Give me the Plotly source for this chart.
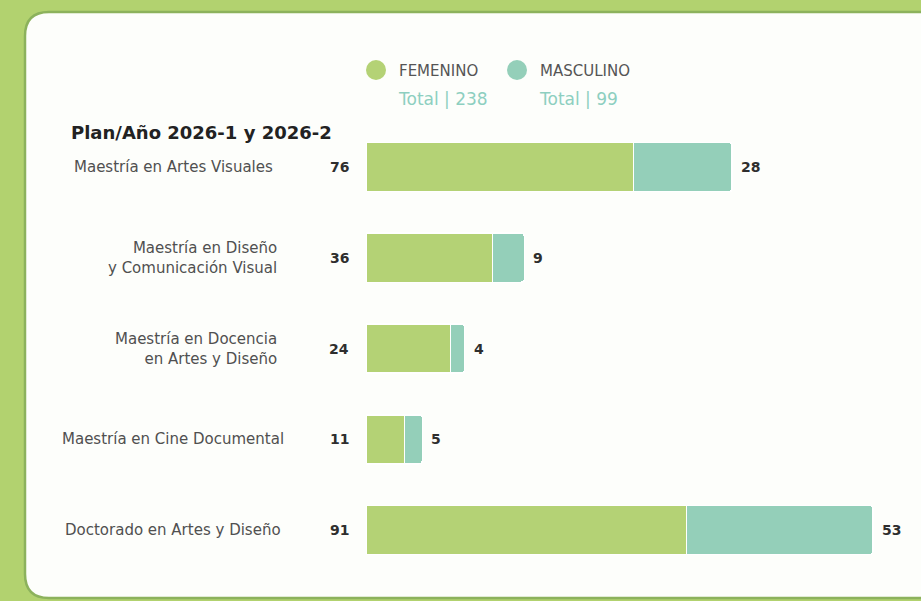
import plotly.graph_objects as go

categories = [
    "Maestría en Artes Visuales",
    "Maestría en Diseño<br>y Comunicación Visual",
    "Maestría en Docencia<br>en Artes y Diseño",
    "Maestría en Cine Documental",
    "Doctorado en Artes y Diseño",
]
femenino = [76, 36, 24, 11, 91]
masculino = [28, 9, 4, 5, 53]
total_fem = 238
total_masc = 99
title_text = "Plan/Año 2026-1 y 2026-2"

W, H = 921, 601
GREEN = "#b4d275"
TEAL = "#94cfb9"
OUTER = "#b2d26f"
SANS = "DejaVu Sans, Verdana, sans-serif"

def px(x):
    return x / W

def py(y):
    return 1 - y / H

fig = go.Figure()
fig.add_trace(go.Bar(
    y=list(range(len(categories))), x=femenino, orientation="h",
    marker=dict(color=GREEN, line=dict(color="white", width=1.5)),
    width=0.54, name="FEMENINO", hoverinfo="x",
))
fig.add_trace(go.Bar(
    y=list(range(len(categories))), x=masculino, orientation="h",
    marker=dict(color=TEAL, line=dict(color="white", width=1.5)),
    width=0.54, name="MASCULINO", hoverinfo="x",
))

# panel path (rounded white card)
x0, x1, y0, y1, r = 25, 980, 12, 598, 24
path = (
    f"M {px(x0)},{py(y0 + r)} "
    f"Q {px(x0)},{py(y0)} {px(x0 + r)},{py(y0)} "
    f"L {px(x1)},{py(y0)} L {px(x1)},{py(y1)} "
    f"L {px(x0 + r)},{py(y1)} "
    f"Q {px(x0)},{py(y1)} {px(x0)},{py(y1 - r)} Z"
)
shapes = [
    dict(type="path", path=path, xref="paper", yref="paper",
         fillcolor="#fdfefb", line=dict(color="#8cb25c", width=2.5), layer="below"),
    dict(type="circle", xref="paper", yref="paper",
         x0=px(366), x1=px(386), y0=py(80), y1=py(60),
         fillcolor=GREEN, line=dict(width=0)),
    dict(type="circle", xref="paper", yref="paper",
         x0=px(507), x1=px(527), y0=py(80), y1=py(60),
         fillcolor=TEAL, line=dict(width=0)),
]

annotations = []
label_font = dict(family=SANS, size=15, color="#505050")
num_font = dict(family=SANS, size=14, color="#2e2e2e", weight="bold")
for i, (cat, f, m) in enumerate(zip(categories, femenino, masculino)):
    if "<br>" in cat:
        annotations.append(dict(x=px(279), y=i, xref="paper", yref="y", text=cat,
                                xanchor="right", align="right", showarrow=False,
                                font=label_font))
    else:
        annotations.append(dict(x=px(173), y=i, xref="paper", yref="y", text=cat,
                                xanchor="center", align="center", showarrow=False,
                                font=label_font))
    annotations.append(dict(x=0, y=i, xref="x", yref="y", text=str(f),
                            xanchor="right", xshift=-15, showarrow=False, font=num_font))
    annotations.append(dict(x=f + m, y=i, xref="x", yref="y", text=str(m),
                            xanchor="left", xshift=7, showarrow=False, font=num_font))

annotations += [
    dict(x=px(69), y=py(132), xref="paper", yref="paper", text=title_text,
         xanchor="left", yanchor="middle", showarrow=False,
         font=dict(family=SANS, size=18, color="#222222", weight="bold")),
    dict(x=px(397), y=py(71), xref="paper", yref="paper", text="FEMENINO",
         xanchor="left", yanchor="middle", showarrow=False,
         font=dict(family=SANS, size=15, color="#555555")),
    dict(x=px(538), y=py(71), xref="paper", yref="paper", text="MASCULINO",
         xanchor="left", yanchor="middle", showarrow=False,
         font=dict(family=SANS, size=15, color="#555555")),
    dict(x=px(396), y=py(99), xref="paper", yref="paper", text=f"Total | {total_fem}",
         xanchor="left", yanchor="middle", showarrow=False,
         font=dict(family=SANS, size=17, color="#8dcfc0")),
    dict(x=px(537), y=py(99), xref="paper", yref="paper", text=f"Total | {total_masc}",
         xanchor="left", yanchor="middle", showarrow=False,
         font=dict(family=SANS, size=17, color="#8dcfc0")),
]

scale = 3.52  # px per unit
fig.update_layout(
    width=W, height=H, barmode="stack", showlegend=False,
    margin=dict(l=0, r=0, t=0, b=0),
    paper_bgcolor=OUTER, plot_bgcolor="rgba(0,0,0,0)",
    shapes=shapes, annotations=annotations,
    barcornerradius=3,
    xaxis=dict(domain=[px(366), 1], range=[0, (W - 366) / scale],
               visible=False, fixedrange=True),
    yaxis=dict(domain=[py(575.4), py(121.6)], range=[4.5, -0.5],
               visible=False, fixedrange=True),
)

fig.write_html(
    "out.html",
    config={"displayModeBar": False},
    post_script="document.body.style.margin='0';document.body.style.overflow='hidden';",
)
